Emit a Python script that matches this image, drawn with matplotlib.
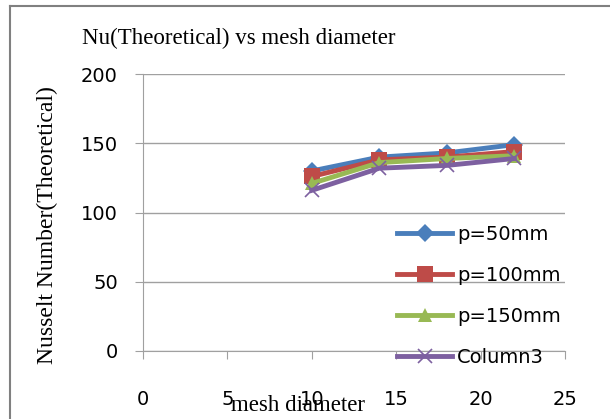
import matplotlib.pyplot as plt
from matplotlib.lines import Line2D

# mesh diameter and theoretical Nusselt numbers for each pitch
mesh_diameter = [10, 14, 18, 22]
nu_p50 = [130, 140, 143, 149]
nu_p100 = [126, 138, 140, 144]
nu_p150 = [121, 136, 139, 141]
nu_col3 = [116, 132, 134, 139]

series = [
    ("p=50mm", nu_p50, "#4A7EBB", "D", 9),
    ("p=100mm", nu_p100, "#BE4B48", "s", 11),
    ("p=150mm", nu_p150, "#98B954", "^", 10),
    ("Column3", nu_col3, "#7D60A0", "x", 10),
]

fig = plt.figure(figsize=(6.1, 4.19), dpi=100)
ax = fig.add_axes([143 / 610, 1 - 351 / 419, (565 - 143) / 610, (351 - 74) / 419])

for name, vals, col, mk, ms in series:
    ax.plot(mesh_diameter, vals, color=col, lw=3.5, marker=mk, ms=ms,
            mew=1.2 if mk == "x" else 0, mec=col, label=name)

ax.set_xlim(0, 25)
ax.set_ylim(0, 200)
ax.set_xticks(range(0, 26, 5))
ax.set_yticks(range(0, 201, 50))
ax.grid(axis="y", color="#A0A0A0", lw=1)
ax.set_axisbelow(True)
for s in ["top", "right"]:
    ax.spines[s].set_visible(False)
for s in ["left", "bottom"]:
    ax.spines[s].set_color("#A0A0A0")
ax.tick_params(colors="#A0A0A0", labelcolor="black", labelsize=14, length=6,
               direction="out")
ax.tick_params(axis="y", pad=12)
ax.tick_params(axis="x", pad=22)
for lab in ax.get_xticklabels() + ax.get_yticklabels():
    lab.set_fontfamily("DejaVu Sans")

fig.text(82 / 610, 1 - 38 / 419, "Nu(Theoretical) vs mesh diameter",
         family="Liberation Serif", fontsize=16.5, va="center", ha="left")
fig.text(47 / 610, 1 - 225 / 419, "Nusselt Number(Theoretical)",
         family="Liberation Serif", fontsize=17, rotation=90, va="center", ha="center")
fig.text(298 / 610, 1 - 405 / 419, "mesh diameter",
         family="Liberation Serif", fontsize=16.5, va="center", ha="center")

# legend drawn on top of the plot area, no frame
leg = ax.legend(loc="upper left", bbox_to_anchor=(397 / 610, 1 - 225 / 419),
                bbox_transform=fig.transFigure, frameon=False,
                prop={"family": "DejaVu Sans", "size": 14},
                handlelength=2.83, handletextpad=0.26, labelspacing=1.13,
                borderpad=0, borderaxespad=0)

# outer chart border
fig.add_artist(Line2D([10 / 610, 10 / 610], [0, 1 - 6 / 419],
                      transform=fig.transFigure, color="#808080", lw=1.5))
fig.add_artist(Line2D([10 / 610, 1], [1 - 6 / 419, 1 - 6 / 419],
                      transform=fig.transFigure, color="#808080", lw=1.5))

fig.savefig("out.png", dpi=100)
